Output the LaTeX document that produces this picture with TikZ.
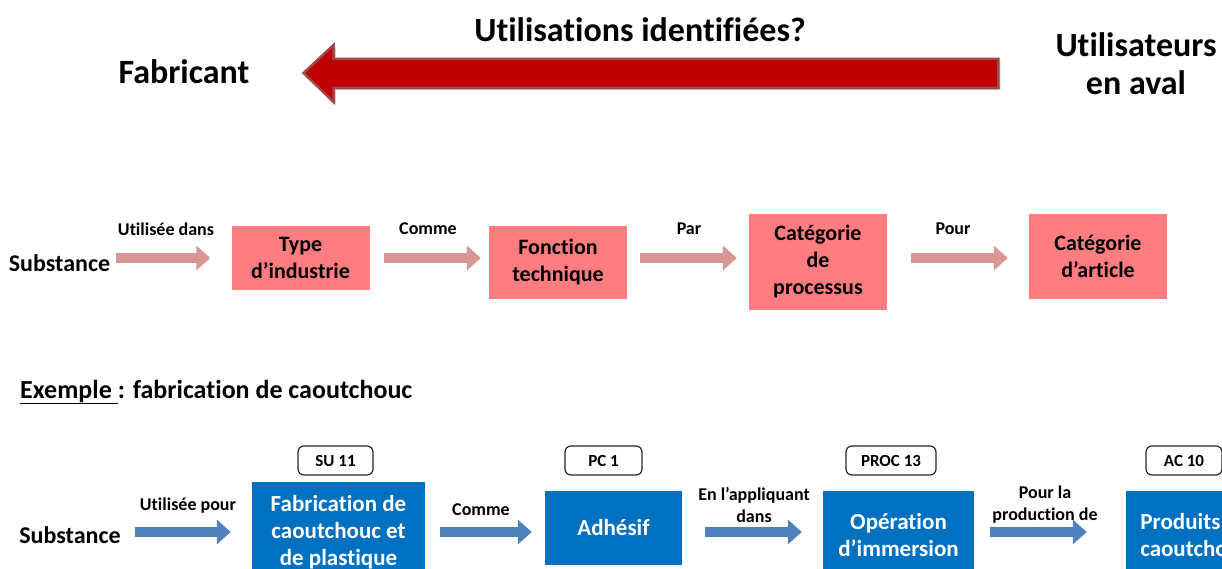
\documentclass[tikz,border=0pt]{standalone}
\usepackage{fontspec}
\setmainfont{Carlito}[Ligatures=NoCommon]
\usepackage{tikz}
\usetikzlibrary{positioning,arrows.meta,calc}
\definecolor{red1}{HTML}{C00000}
\definecolor{redline}{HTML}{A04848}
\definecolor{pink1}{HTML}{FF7C80}
\definecolor{pinkarr}{HTML}{D99694}
\definecolor{blue1}{HTML}{0070C0}
\definecolor{bluearr}{HTML}{4F81BD}

\begin{document}
\begin{tikzpicture}[x=1pt, y=-1pt,
    big/.style={inner sep=0pt, font=\bfseries\fontsize{34}{38}\selectfont, align=center},
    subst/.style={inner sep=0pt, font=\bfseries\fontsize{24}{28}\selectfont},
    lbl/.style={inner sep=0pt, font=\bfseries\fontsize{18}{22}\selectfont, align=center},
    pbox/.style={fill=pink1, inner sep=0pt, minimum width=138,
                 font=\bfseries\fontsize{22}{27}\selectfont, align=center},
    bbox/.style={fill=blue1, text=white, inner sep=0pt,
                 font=\bfseries\fontsize{23}{27}\selectfont, align=center},
    code/.style={draw=black!85, line width=1.2, rounded corners=6pt, fill=white,
                 inner sep=0pt, minimum height=29,
                 font=\bfseries\fontsize{17}{20}\selectfont},
    parr/.style={pinkarr, line width=10, -{Triangle[length=14, width=24]}},
    barr/.style={bluearr, line width=10, -{Triangle[length=14, width=24]}},
]
\useasboundingbox (0,0) rectangle (1222,569);
\clip (0,0) rectangle (1222,569);

% haut
\node[big] (titre) at (640,30) {Utilisations identifiées?};
\node[big] (fab) at (184,72) {Fabricant};
\node[big] (aval) at (1136,64) {Utilisateurs\\en aval};
\coordinate (tip) at ($(fab.east)+(54,1)$);
\coordinate (tail) at ($(aval.west |- tip)+(-57,0)$);
\fill[black!25] ($(tip)+(2,2)$) -- ++(30,-28) -- ++(0,14) -| ($(tail)+(2,17)$)
    -| ($(tip)+(32,17)$) -- ++(0,14) -- cycle;
\filldraw[fill=red1, draw=redline, line width=2.5] (tip) -- ++(30,-28) -- ++(0,14)
    -| ($(tail)+(0,15)$) -| ($(tip)+(30,15)$) -- ++(0,14) -- cycle;

% ligne generique
\node[subst] (s1) at (59.5,263) {Substance};
\node[pbox, minimum height=64] (t1) at (300.5,258) {Type\\d’industrie};
\node[pbox, minimum height=73] (t2) at (558,262.5) {Fonction\\technique};
\node[pbox, minimum height=96] (t3) at (818,262) {Catégorie\\de\\processus};
\node[pbox, minimum height=85] (t4) at (1098,256.5) {Catégorie\\d’article};

\node[lbl] (l1) at (166,229) {Utilisée dans};
\node[lbl] (l2) at (428,229) {Comme};
\node[lbl] (l3) at (689,229) {Par};
\node[lbl] (l4) at (953,229) {Pour};

\draw[parr, shorten <=6, shorten >=21] (s1.east |- t1.west) -- (t1.west);
\draw[parr, shorten <=14, shorten >=8] (t1.east) -- (t1.east -| t2.west);
\draw[parr, shorten <=13, shorten >=12] (t2.east |- t1) -- (t3.west |- t1);
\draw[parr, shorten <=24, shorten >=21] (t3.east |- t1) -- (t4.west |- t1);

% exemple
\node[inner sep=0pt, anchor=west, font=\bfseries\fontsize{26}{30}\selectfont]
    (ex) at (20,392) {\underline{Exemple }: fabrication de caoutchouc};

\node[subst] (s2) at (70,535) {Substance};
\node[bbox, minimum width=173, minimum height=100] (b1) at (338.5,532)
    {Fabrication de\\caoutchouc et\\de plastique};
\node[bbox, minimum width=137, minimum height=74] (b2) at (613.5,528) {Adhésif};
\node[bbox, minimum width=151, minimum height=90] (b3) at (898.5,535.5)
    {Opération\\d’immersion};
\node[bbox, minimum width=138, minimum height=90] (b4) at (1195,535.5)
    {Produits en\\caoutchouc};

\node[code, minimum width=75] (su) at (335.5,460.5) {SU 11};
\node[code, minimum width=77] (pc) at (603.5,460.5) {PC 1};
\node[code, minimum width=90] (proc) at (891,460.5) {PROC 13};
\node[code, minimum width=76] (ac) at (1184,460.5) {AC 10};

\node[lbl] (m1) at (188,506) {Utilisée pour};
\node[lbl] (m2) at (481,510) {Comme};
\node[lbl] (m3) at (754,505) {En l’appliquant\\dans};
\node[lbl] (m4) at (1045,505) {Pour la\\production de};

\draw[barr, shorten <=14, shorten >=21] (s2.east |- b1.west) -- (b1.west);
\draw[barr, shorten <=15, shorten >=13] (b1.east) -- (b1.east -| b2.west);
\draw[barr, shorten <=23, shorten >=21] (b2.east |- b1) -- (b3.west |- b1);
\draw[barr, shorten <=16, shorten >=39] (b3.east |- b1) -- (b4.west |- b1);
\end{tikzpicture}
\end{document}
